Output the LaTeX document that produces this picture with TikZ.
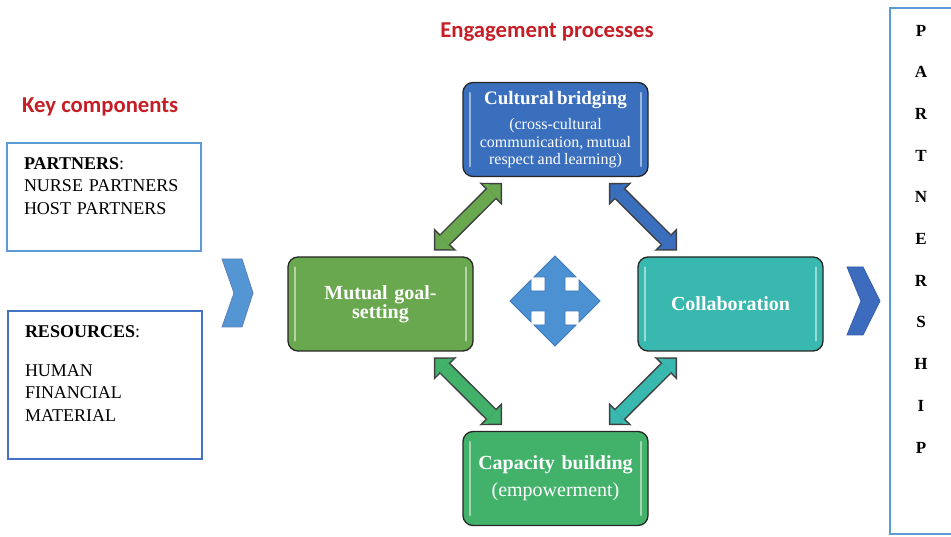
\documentclass[tikz,border=0pt]{standalone}
\usepackage{fontspec}
\setmainfont{Liberation Serif}
\newfontfamily\headfont{Carlito}
\usetikzlibrary{arrows.meta,calc}

\definecolor{headred}{RGB}{197,30,38}
\definecolor{bridgeblue}{RGB}{58,111,190}
\definecolor{goalgreen}{RGB}{106,168,79}
\definecolor{collabteal}{RGB}{56,184,174}
\definecolor{capgreen}{RGB}{66,178,107}
\definecolor{frameblue}{RGB}{91,155,213}
\definecolor{framedeep}{RGB}{68,114,196}
\definecolor{quadblue}{RGB}{76,145,210}
\definecolor{quadedge}{RGB}{62,122,188}
\definecolor{chevlight}{RGB}{84,150,211}
\definecolor{chevdark}{RGB}{61,107,190}
\definecolor{chevedge}{RGB}{50,95,170}

% fat double arrow between two boxes: dark rim first, colour on top
\newcommand{\fatlink}[3]{%
  \draw[linkout] (#1) -- (#2);
  \draw[linkin, draw=#3] (#1) -- (#2);}

\begin{document}
\begin{tikzpicture}[x=1pt,y=-1pt,
  heading/.style={text=headred, inner sep=0pt, font=\headfont\bfseries\fontsize{22.7}{26}\selectfont},
  keybox/.style={draw, line width=1.5pt, minimum width=194pt, text width=160pt, inner xsep=17pt, align=left, font=\fontsize{18}{22.5}\selectfont},
  stage/.style={draw=black!85, line width=1.3pt, rounded corners=10pt, minimum width=185pt, minimum height=94pt, text width=178pt, inner sep=0pt, align=center, text=white},
  linkout/.style={draw=black!75, line width=15pt, shorten <=8pt, shorten >=8pt,
    {Triangle[length=16pt,width=32pt,line width=0pt]}-{Triangle[length=16pt,width=32pt,line width=0pt]}},
  linkin/.style={line width=12pt, shorten <=10.1pt, shorten >=10.1pt,
    {Triangle[length=12.4pt,width=24.8pt,line width=0pt]}-{Triangle[length=12.4pt,width=24.8pt,line width=0pt]}},
  gloss/.style={white, opacity=.5, line width=2pt, line cap=round}]
\useasboundingbox (0,0) rectangle (951,537);

% headings
\node[heading, anchor=base west] (keyhead) at (22,113) {Key components};
\node[heading, anchor=base] (enghead) at (547,38) {Engagement processes};

% key components
\node[keybox, draw=frameblue, minimum height=108pt] (partners) at (104,197)
  {\textbf{PARTNERS}:\\NURSE PARTNERS\\HOST PARTNERS\\\mbox{}};
\node[keybox, draw=framedeep, minimum height=148pt] (resources) at (105,385)
  {\textbf{RESOURCES}:\\[16pt]HUMAN\\FINANCIAL\\MATERIAL\\\mbox{}};

% the four engagement processes
\node[stage, fill=bridgeblue] (bridge) at (555.5,129.5)
  {{\fontsize{19}{19}\selectfont\bfseries Cultural bridging\par}\vspace{8pt}%
   {\fontsize{16}{17.5}\selectfont (cross-cultural\\communication, mutual\\respect and learning)\par}};
\node[stage, fill=goalgreen, font=\fontsize{20}{19}\selectfont\bfseries] (goal) at (380.5,304)
  {Mutual goal-\\setting};
\node[stage, fill=collabteal, font=\fontsize{20}{20}\selectfont\bfseries] (collab) at (730.5,304)
  {Collaboration};
\node[stage, fill=capgreen, font=\fontsize{20}{26.7}\selectfont] (capacity) at (555.5,478.5)
  {\textbf{Capacity building}\\(empowerment)};

\foreach \b in {bridge,goal,collab,capacity} {
  \draw[gloss] ($(\b.north west)+(8,11)$) -- ($(\b.south west)+(8,-11)$);
  \draw[gloss] ($(\b.north east)+(-8,11)$) -- ($(\b.south east)+(-8,-11)$);
}

\fatlink{bridge}{goal}{goalgreen}
\fatlink{bridge}{collab}{bridgeblue}
\fatlink{goal}{capacity}{capgreen}
\fatlink{collab}{capacity}{collabteal}

% four-way arrow in the middle
\begin{scope}[shift={(555,301)}]
\filldraw[fill=quadblue, draw=quadedge, line width=.8pt]
  (0,-45) -- (21,-24) -- (10,-24) -- (10,-10) -- (24,-10) -- (24,-21) --
  (45,0) -- (24,21) -- (24,10) -- (10,10) -- (10,24) -- (21,24) --
  (0,45) -- (-21,24) -- (-10,24) -- (-10,10) -- (-24,10) -- (-24,21) --
  (-45,0) -- (-24,-21) -- (-24,-10) -- (-10,-10) -- (-10,-24) -- (-21,-24) -- cycle;
\end{scope}

% chevrons
\filldraw[fill=chevlight, draw=chevedge!80, line width=.8pt]
  (222,259) -- (242,259) -- (253,293) -- (242,327) -- (222,327) -- (234,293) -- cycle;
\filldraw[fill=chevdark, draw=chevedge, line width=.8pt]
  (847,267) -- (863,267) -- (880,301) -- (863,335) -- (847,335) -- (861,301) -- cycle;

% partnership column
\node[draw=frameblue, line width=1.5pt, minimum width=64pt, minimum height=526pt, inner sep=0pt] (frame) at (922,271) {};
\foreach \ch [count=\i] in {P,A,R,T,N,E,R,S,H,I,P}
  \node[font=\bfseries\fontsize{17}{17}\selectfont] (ch\i) at (921,{30.5+41.7*(\i-1)}) {\ch};
\end{tikzpicture}
\end{document}
